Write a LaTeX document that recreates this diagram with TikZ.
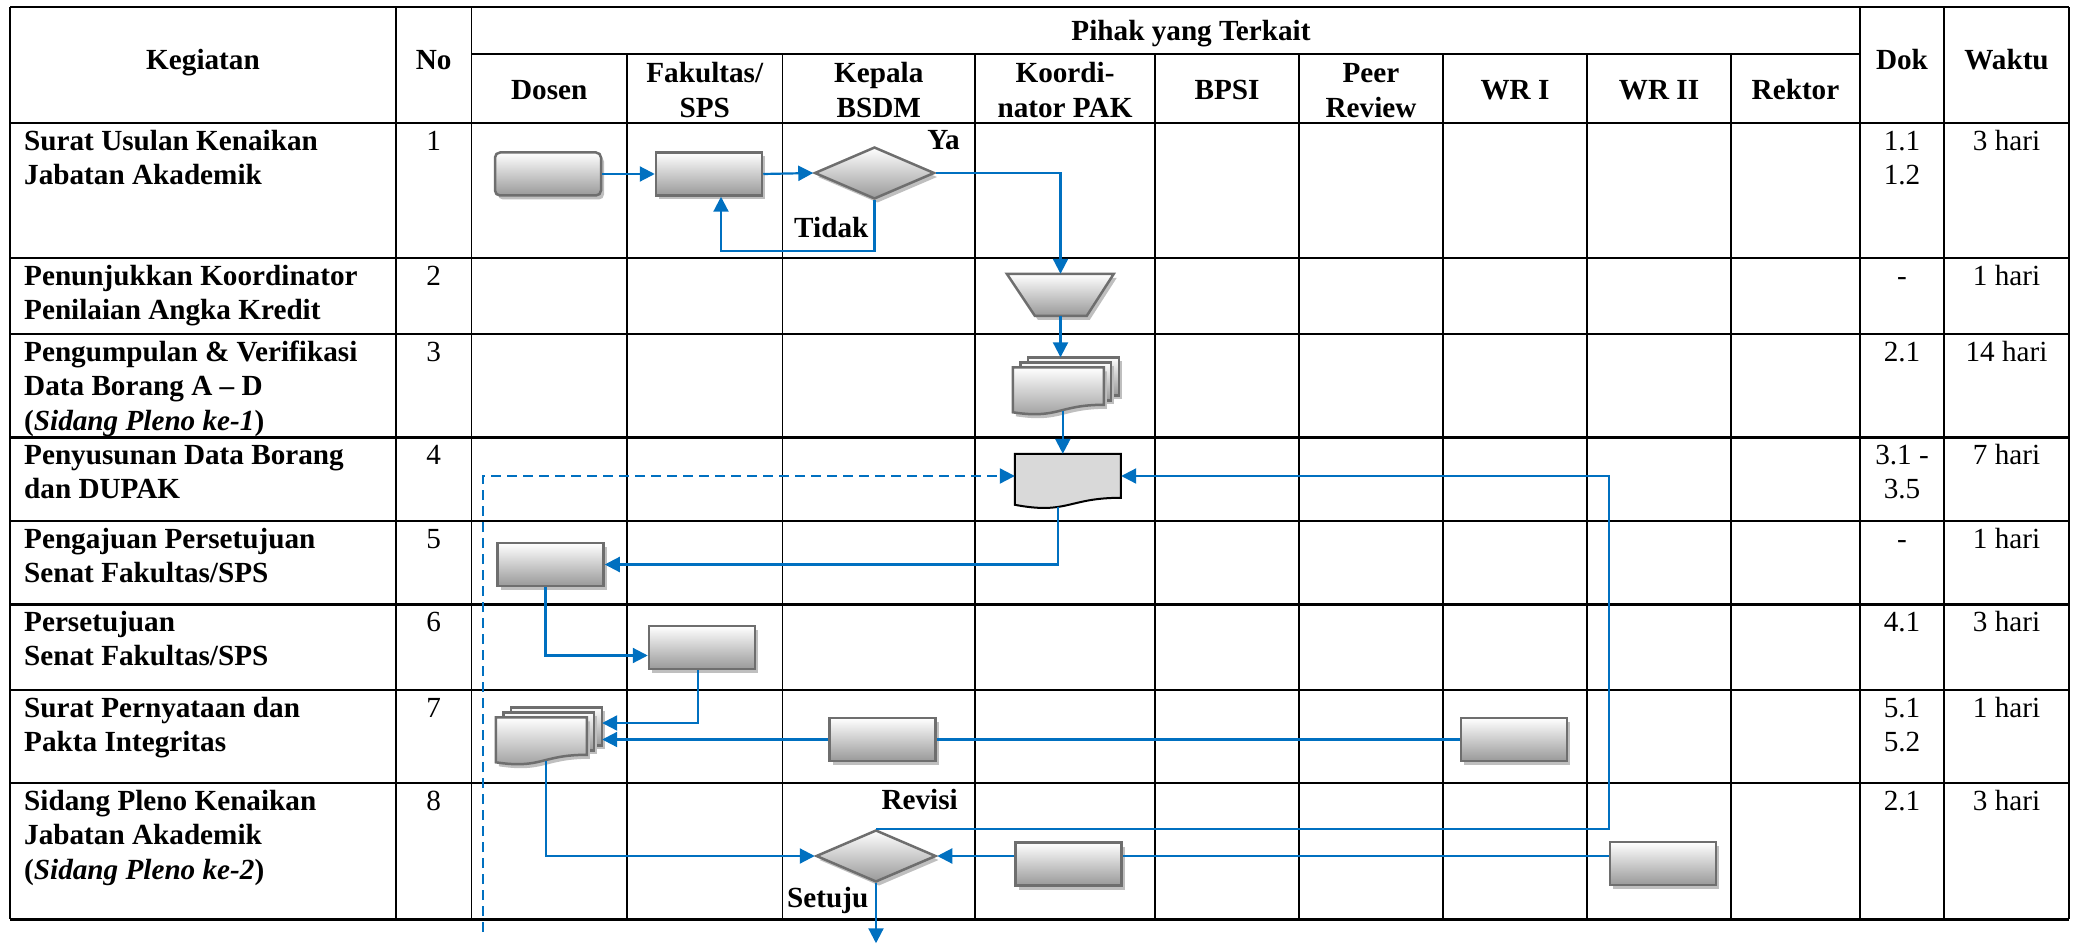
\documentclass[tikz,border=0pt]{standalone}
\usepackage{fontspec}
\setmainfont{Liberation Serif}
\usetikzlibrary{shapes.geometric,arrows.meta,shadows}

\definecolor{biru}{RGB}{0,112,192}
\newcommand{\ukuran}{\fontsize{29.2}{34.5}\selectfont}

% operasi manual pada kotak node #1
\newcommand{\gambarmanual}[1]{%
  \begin{scope}[shift={(#1.north west)}]
    \path[bentuk] (0,0) -- (107,0) -- (80,42) -- (28,42) -- cycle;
  \end{scope}}

% dokumen satu lembar pada kotak node #1
\newcommand{\gambardok}[1]{%
  \begin{scope}[shift={(#1.north west)}]
    \path[dok] (0,0) -- (106,0) -- (106,44)
      .. controls (53,44) and (53,61) .. (0,51) -- cycle;
    \coordinate (#1-bawah) at (43,53.5);
  \end{scope}}

% dokumen bertumpuk pada kotak node #1
\newcommand{\gambarmulti}[1]{%
  \begin{scope}[shift={(#1.north west)}]
    \path[bentuk] (15,0) rectangle (106,38);
    \path[bentuk] (7.5,5) rectangle (98,43);
    \path[bentuk] (0,10) -- (91,10) -- (91,47.5)
      .. controls (45.5,47.5) and (45.5,62) .. (0,55) -- cycle;
    \coordinate (#1-bawah) at (50,53.3);
  \end{scope}}

\begin{document}
\begin{tikzpicture}[x=1pt, y=-1pt,
    garis/.style={line width=1.5pt},
    garis tebal/.style={line width=3pt},
    judul/.style={inner sep=0pt, align=center, font=\ukuran\bfseries},
    kegiatan/.style={anchor=north west, inner sep=0pt, align=left, font=\ukuran\bfseries},
    isi/.style={anchor=north, inner sep=0pt, align=center, font=\ukuran},
    ket/.style={inner sep=0pt, font=\ukuran\bfseries},
    bentuk/.style={draw=black!57, line width=2.5pt, top color=white, bottom color=black!40,
      drop shadow={shadow xshift=3pt, shadow yshift=-4pt, fill=black!25, opacity=1}},
    dok/.style={draw=black, line width=2pt, fill=black!15},
    proses/.style={bentuk, rectangle, minimum width=106pt, minimum height=43pt, inner sep=0pt},
    terminal/.style={proses, rounded corners=5pt},
    keputusan/.style={bentuk, diamond, minimum width=120pt, minimum height=52pt, inner sep=0pt},
    wadah/.style={rectangle, inner sep=0pt, minimum width=106pt},
    garis alur/.style={draw=biru, line width=2.2pt},
    alur/.style={garis alur, -{Triangle[length=15pt, width=15pt]}},
    alur putus/.style={alur, dash pattern=on 10pt off 6pt}
  ]
  \useasboundingbox (0,0) rectangle (2075,944);

  % tabel
  \foreach \y in {7,123,258,334,521,690,783}
    \draw[garis] (10,\y) -- (2069,\y);
  \foreach \y in {437,604,919}
    \draw[garis tebal] (10,\y) -- (2069,\y);
  \draw[garis] (471.5,54) -- (1860,54);
  \foreach \x in {10,396,471.5,1860,1944,2069}
    \draw[garis] (\x,7) -- (\x,919);
  \foreach \x in {627,782.5,975,1155,1299,1443,1587,1731}
    \draw[garis] (\x,54) -- (\x,919);

  % kepala tabel
  \node[judul, anchor=base] (hkeg) at (203,70) {Kegiatan};
  \node[judul, anchor=base] (hno) at (433.75,70) {No};
  \node[judul, anchor=base] (hpihak) at (1191,41) {Pihak yang Terkait};
  \node[judul, anchor=base] (hdok) at (1902,70) {Dok};
  \node[judul, anchor=base] (hwkt) at (2006.5,70) {Waktu};
  \node[judul, anchor=base] (hdosen) at (549.25,100) {Dosen};
  \node[judul, anchor=north] (hfak) at (704.75,58.5) {\strut Fakultas/\\SPS};
  \node[judul, anchor=north] (hkb) at (878.75,58.5) {\strut Kepala\\BSDM};
  \node[judul, anchor=north] (hpak) at (1065,58.5) {\strut Koordi-\\nator PAK};
  \node[judul, anchor=base] (hbpsi) at (1227,100) {BPSI};
  \node[judul, anchor=north] (hpeer) at (1371,58.5) {\strut Peer\\Review};
  \node[judul, anchor=base] (hwr1) at (1515,100) {WR I};
  \node[judul, anchor=base] (hwr2) at (1659,100) {WR II};
  \node[judul, anchor=base] (hrek) at (1795.5,100) {Rektor};

  % kegiatan
  \node[kegiatan] (keg1) at (24,126) {\strut Surat Usulan Kenaikan\\Jabatan Akademik};
  \node[kegiatan] (keg2) at (24,261) {\strut Penunjukkan Koordinator\\Penilaian Angka Kredit};
  \node[kegiatan] (keg3) at (24,337) {\strut Pengumpulan \& Verifikasi\\Data Borang A – D\\(\textit{Sidang Pleno ke-1})};
  \node[kegiatan] (keg4) at (24,440) {\strut Penyusunan Data Borang\\dan DUPAK};
  \node[kegiatan] (keg5) at (24,524) {\strut Pengajuan Persetujuan\\Senat Fakultas/SPS};
  \node[kegiatan] (keg6) at (24,607) {\strut Persetujuan\\Senat Fakultas/SPS};
  \node[kegiatan] (keg7) at (24,693) {\strut Surat Pernyataan dan\\Pakta Integritas};
  \node[kegiatan] (keg8) at (24,786) {\strut Sidang Pleno Kenaikan\\Jabatan Akademik\\(\textit{Sidang Pleno ke-2})};

  \foreach \i/\y/\dok/\wkt in {1/123/{1.1\\1.2}/3 hari, 2/258/-/1 hari, 3/334/2.1/14 hari,
      4/437/{3.1 -\\3.5}/7 hari, 5/521/-/1 hari, 6/604/4.1/3 hari,
      7/690/{5.1\\5.2}/1 hari, 8/783/2.1/3 hari}{
    \node[isi] (no\i) at (433.75,\y+3) {\strut\i};
    \node[isi] (dok\i) at (1902,\y+3) {\strut\dok};
    \node[isi] (wkt\i) at (2006.5,\y+3) {\strut\wkt};
  }

  % bagan alir
  \node[terminal] (ds1) at (548,174) {};
  \node[proses] (fk1) at (709,174) {};
  \node[keputusan] (kb1) at (874.5,173) {};
  \node[wadah, minimum width=107pt, minimum height=42pt] (pak2) at (1060.5,295) {};
  \gambarmanual{pak2}
  \node[wadah, minimum height=57pt] (pak3) at (1066,386) {};
  \gambarmulti{pak3}
  \node[wadah, minimum height=44pt] (pak4) at (1068,476) {};
  \gambardok{pak4}
  \node[proses] (ds5) at (550.5,564.5) {};
  \node[proses] (fk6) at (702,647.5) {};
  \node[wadah, minimum height=57pt] (ds7) at (549,736) {};
  \gambarmulti{ds7}
  \node[proses] (kb7) at (882.5,739.5) {};
  \node[proses] (wr7) at (1514,739.5) {};
  \node[keputusan] (kb8) at (876,856) {};
  \node[proses] (pak8) at (1068.5,864) {};
  \node[proses] (wr8) at (1663,863.5) {};

  \node[ket, anchor=base east] (ya) at (960,150) {Ya};
  \node[ket, anchor=base west] (tidak) at (794,238) {Tidak};
  \node[ket, anchor=base east] (revisi) at (958,809) {Revisi};
  \node[ket, anchor=base west] (setuju) at (787,907) {Setuju};

  \coordinate (mulai) at (483,932);

  \draw[alur] (ds1.east) -- (fk1.west);
  \draw[alur] (fk1.east) -- (kb1.west);
  \draw[alur] (kb1.east) -| (pak2.north);
  \draw[alur] (kb1.south) -- ++(0,51) -| ([xshift=12pt]fk1.south);
  \draw[alur] (pak2.south) -- (pak2.south |- pak3.north);
  \draw[alur] (pak3-bawah) -- (pak3-bawah |- pak4.north);
  \draw[alur] (pak4-bawah) |- (ds5.east);
  \draw[alur putus] (mulai) |- (pak4.west);
  \draw[alur] (kb8.north) -| (wr8.west |- pak4.east) -- (pak4.east);
  \draw[alur] ([xshift=-5pt]ds5.south) |- ([yshift=-8pt]fk6.west);
  \draw[alur] ([xshift=-4pt]fk6.south) |- ([yshift=13pt]ds7.east);
  \draw[garis alur] (wr7.west) -- (kb7.east);
  \draw[alur] (kb7.west) -- (kb7.west -| ds7.east);
  \draw[alur] (ds7-bawah) |- (kb8.west);
  \draw[garis alur] (wr8.west |- kb8.east) -- (pak8.east |- kb8.east);
  \draw[alur] (pak8.west |- kb8.east) -- (kb8.east);
  \draw[alur] (kb8.south) -- ++(0,60);
\end{tikzpicture}
\end{document}
